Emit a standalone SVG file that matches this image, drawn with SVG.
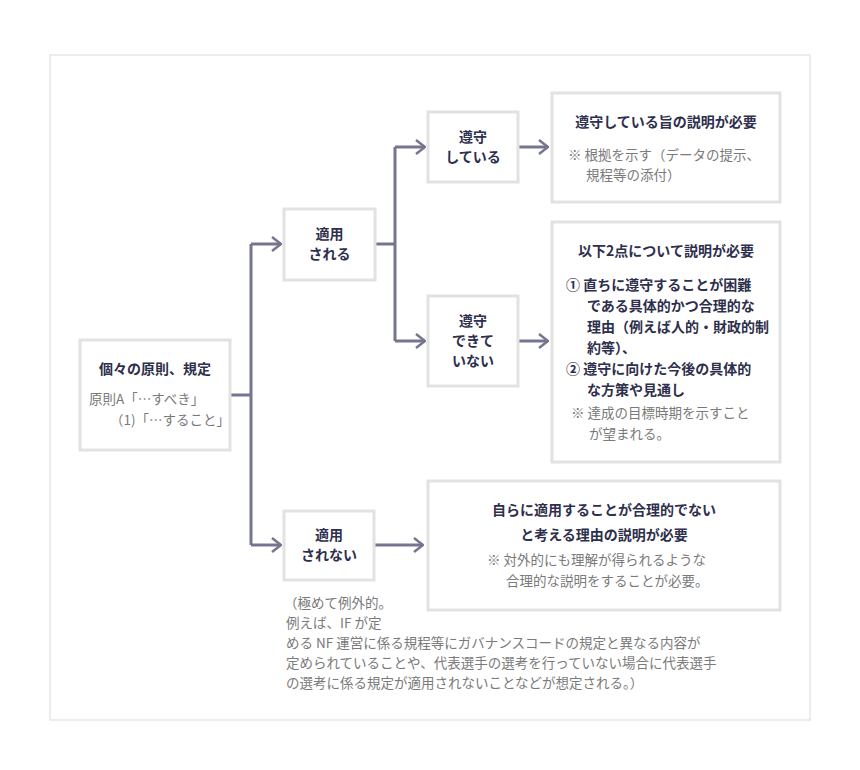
<svg xmlns="http://www.w3.org/2000/svg" width="860" height="770" viewBox="0 0 860 770">
<style>
.box{fill:#fff;stroke:#e2e2e2;stroke-width:3}
.b{font-family:"Noto Sans CJK JP","Noto Sans",sans-serif;font-weight:bold;font-size:14px;fill:#2e2f4c}
.g{font-family:"Noto Sans CJK JP","Noto Sans",sans-serif;font-size:13.5px;fill:#7a7a7a}
.c{text-anchor:middle}
.ln{fill:none;stroke:#76758f;stroke-width:3}
</style>
<defs>
<marker id="ar" viewBox="0 0 12 16" refX="11" refY="8" markerWidth="12" markerHeight="16" markerUnits="userSpaceOnUse" orient="auto">
<path d="M2,1 L11,8 L2,15" fill="none" stroke="#76758f" stroke-width="2.5"/>
</marker>
</defs>
<rect width="860" height="770" fill="#fff"/>
<rect x="50" y="55" width="760" height="665" fill="#fff" stroke="#e6e6e6" stroke-width="1.5"/>
<g id="connectors">
<path class="ln" d="M231,395 H251 M251,244 V545"/>
<path class="ln" d="M251,244 H281" marker-end="url(#ar)"/>
<path class="ln" d="M251,545 H281" marker-end="url(#ar)"/>
<path class="ln" d="M375,244 H395 M395,147 V341"/>
<path class="ln" d="M395,147 H425" marker-end="url(#ar)"/>
<path class="ln" d="M395,341 H425" marker-end="url(#ar)"/>
<path class="ln" d="M518,147 H548" marker-end="url(#ar)"/>
<path class="ln" d="M518,341 H548" marker-end="url(#ar)"/>
<path class="ln" d="M374,545 H423" marker-end="url(#ar)"/>
</g>
<g id="n-root">
<rect class="box" x="80" y="340" width="150" height="110"/>
<text class="b c" x="155" y="374">個々の原則、規定</text>
<text class="g" x="89" y="404">原則A「…すべき」</text>
<text class="g" x="110" y="425">（1)「…すること」</text>
</g>
<g id="n-apply">
<rect class="box" x="284" y="209" width="91" height="71"/>
<text class="b c" x="329.5" y="239">適用</text>
<text class="b c" x="329.5" y="259">される</text>
</g>
<g id="n-comply">
<rect class="box" x="428" y="112" width="90" height="70"/>
<text class="b c" x="473" y="142">遵守</text>
<text class="b c" x="473" y="162">している</text>
</g>
<g id="n-notcomply">
<rect class="box" x="428" y="296" width="90" height="90"/>
<text class="b c" x="473" y="326">遵守</text>
<text class="b c" x="473" y="346">できて</text>
<text class="b c" x="473" y="366">いない</text>
</g>
<g id="n-notapply">
<rect class="box" x="284" y="511" width="90" height="69"/>
<text class="b c" x="329" y="540">適用</text>
<text class="b c" x="329" y="560">されない</text>
<text class="g" x="284" y="608">（極めて例外的。</text>
<text class="g" x="286" y="628">例えば、IF が定</text>
<text class="g" x="286" y="648">める NF 運営に係る規程等にガバナンスコードの規定と異なる内容が</text>
<text class="g" x="286" y="668">定められていることや、代表選手の選考を行っていない場合に代表選手</text>
<text class="g" x="286" y="688">の選考に係る規定が適用されないことなどが想定される。）</text>
</g>
<g id="n-r1">
<rect class="box" x="552" y="93" width="228" height="109"/>
<text class="b c" x="666" y="127">遵守している旨の説明が必要</text>
<text class="g" x="568" y="160">※ 根拠を示す（データの提示、</text>
<text class="g" x="586" y="180">規程等の添付）</text>
</g>
<g id="n-r2">
<rect class="box" x="552" y="222" width="228" height="240"/>
<text class="b c" x="666" y="256">以下2点について説明が必要</text>
<text class="b" x="566" y="290">① 直ちに遵守することが困難</text>
<text class="b" x="587" y="311">である具体的かつ合理的な</text>
<text class="b" x="587" y="332">理由（例えば人的・財政的制</text>
<text class="b" x="587" y="353">約等）、</text>
<text class="b" x="566" y="374">② 遵守に向けた今後の具体的</text>
<text class="b" x="587" y="395">な方策や見通し</text>
<text class="g" x="571" y="418">※ 達成の目標時期を示すこと</text>
<text class="g" x="589" y="439">が望まれる。</text>
</g>
<g id="n-r3">
<rect class="box" x="428" y="481" width="352" height="129"/>
<text class="b c" x="604" y="515">自らに適用することが合理的でない</text>
<text class="b c" x="604" y="540">と考える理由の説明が必要</text>
<text class="g" x="487" y="565">※ 対外的にも理解が得られるような</text>
<text class="g" x="506" y="586">合理的な説明をすることが必要。</text>
</g>
</svg>
